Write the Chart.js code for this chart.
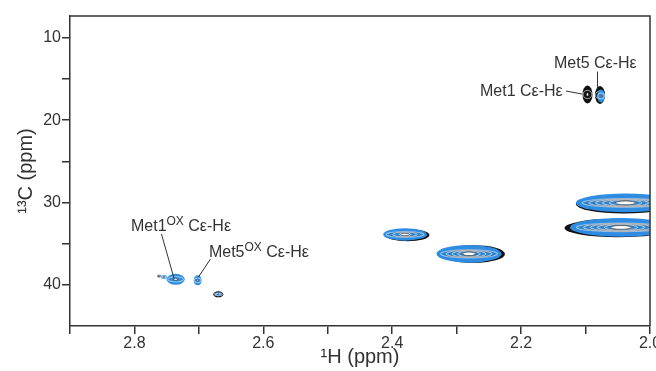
<!DOCTYPE html>
<html>
<head>
<meta charset="utf-8">
<script src="https://cdn.jsdelivr.net/npm/chart.js@4.4.1/dist/chart.umd.min.js"></script>
<style>
  body { margin: 0; background: #fff; }
  canvas { display: block; }
</style>
</head>
<body>
<canvas id="hsqc" width="656" height="371"></canvas>
<script>
// Peak centres (1H ppm, 13C ppm) and half-widths (ppm) for the reference spectrum (black)
const blackH = [2.0970, 2.0776, 2.6699, 2.3763, 2.2742, 2.0400, 2.0497, 2.7619];
const blackC = [16.89, 16.95, 41.13, 33.94, 36.24, 30.18, 33.08, 38.92];
const blackHalfH = [0.0078, 0.0078, 0.0078, 0.0341, 0.0492, 0.0750, 0.0830, 0.0030];
const blackHalfC = [1.09, 1.09, 0.36, 0.75, 1.07, 1.14, 1.13, 0.18];

// ... and for the oxidised sample (blue)
const blueH = [2.0760, 2.7360, 2.7542, 2.7019, 2.6699, 2.3802, 2.2809, 2.0380, 2.0450];
const blueC = [17.07, 39.31, 39.03, 39.43, 41.13, 33.87, 36.22, 30.04, 33.01];
const blueHalfH = [0.0059, 0.0140, 0.0047, 0.0062, 0.0054, 0.0337, 0.0504, 0.0770, 0.0790];
const blueHalfC = [0.79, 0.67, 0.24, 0.61, 0.24, 0.75, 1.07, 1.14, 1.13];

// axis ranges and ticks
const hRange = [2.0, 2.9];
const cRange = [7.37, 44.97];
const hStep = 0.1;
const cStep = 5;

// peak labels: name, superscript, text anchor and leader line (all in ppm)
const labelName = ['Met1', 'Met5', 'Met1', 'Met5'];
const labelSup = ['', '', 'OX', 'OX'];
const labelAt = [[2.2638, 17.07], [2.1490, 13.68], [2.8054, 33.45], [2.6844, 36.60]];
const leaderFrom = [[2.1304, 16.47], [2.0815, 14.10], [2.7581, 33.81], [2.6821, 36.85]];
const leaderTo = [[2.1055, 16.83], [2.0815, 16.22], [2.7387, 39.15], [2.7007, 39.04]];

const FONT = "'Liberation Sans', Arial, sans-serif";
const INK = '#333';

function toPeaks(hs, cs, wh, wc) {
    return hs.map((h, i) => ({ x: h, y: cs[i], w: wh[i], h: wc[i] }));
}

function ellipse(ctx, cx, cy, rx, ry) {
    ctx.beginPath();
    ctx.ellipse(cx, cy, Math.max(rx, 0.3), Math.max(ry, 0.3), 0, 0, Math.PI * 2);
}

// one peak: solid outer level, a band of tight inner levels, open centre
function drawContours(ctx, cx, cy, rx, ry, color) {
    ctx.fillStyle = color;
    ellipse(ctx, cx, cy, rx, ry);
    ctx.fill();

    const n = Math.max(1, Math.min(10, Math.round(rx / 4)));
    ctx.lineWidth = 0.7;
    for (let k = 0; k < n; k++) {
        const t = n > 1 ? k / (n - 1) : 0;
        ctx.strokeStyle = k % 2 ? 'rgba(70,70,70,0.55)' : 'rgba(255,255,255,0.85)';
        ellipse(ctx, cx, cy, rx * (0.88 - 0.62 * t), ry * (0.46 - 0.2 * t));
        ctx.stroke();
    }
    ctx.fillStyle = '#fff';
    ellipse(ctx, cx, cy, rx * 0.2, ry * 0.2);
    ctx.fill();
    ctx.strokeStyle = 'rgba(30,30,30,0.8)';
    ctx.stroke();
}

const contourPlugin = {
    id: 'contourPeaks',
    afterDatasetsDraw(chart) {
        const { ctx, chartArea: a, scales: { x, y } } = chart;
        ctx.save();
        ctx.beginPath();
        ctx.rect(a.left, a.top, a.right - a.left, a.bottom - a.top);
        ctx.clip();
        chart.data.datasets.forEach(ds => {
            ds.data.forEach(p => {
                const cx = x.getPixelForValue(p.x);
                const cy = y.getPixelForValue(p.y);
                const rx = Math.abs(x.getPixelForValue(p.x + p.w) - cx);
                const ry = Math.abs(y.getPixelForValue(p.y + p.h) - cy);
                drawContours(ctx, cx, cy, rx, ry, ds.backgroundColor);
            });
        });
        ctx.restore();
    }
};

// frame on top/right plus the peak annotations
const annotatePlugin = {
    id: 'peakLabels',
    afterDraw(chart) {
        const { ctx, chartArea: a, scales: { x, y } } = chart;
        ctx.save();
        ctx.strokeStyle = INK;
        ctx.lineWidth = 1.5;
        ctx.beginPath();
        ctx.moveTo(a.left, a.top);
        ctx.lineTo(a.right, a.top);
        ctx.lineTo(a.right, a.bottom);
        ctx.stroke();

        ctx.lineWidth = 1;
        ctx.fillStyle = INK;
        ctx.textBaseline = 'alphabetic';
        labelName.forEach((name, i) => {
            ctx.beginPath();
            ctx.moveTo(x.getPixelForValue(leaderFrom[i][0]), y.getPixelForValue(leaderFrom[i][1]));
            ctx.lineTo(x.getPixelForValue(leaderTo[i][0]), y.getPixelForValue(leaderTo[i][1]));
            ctx.stroke();

            let px = x.getPixelForValue(labelAt[i][0]);
            const py = y.getPixelForValue(labelAt[i][1]);
            ctx.font = '16px ' + FONT;
            ctx.fillText(name, px, py);
            px += ctx.measureText(name).width;
            if (labelSup[i]) {
                ctx.font = '12px ' + FONT;
                ctx.fillText(labelSup[i], px, py - 6);
                px += ctx.measureText(labelSup[i]).width;
                ctx.font = '16px ' + FONT;
            }
            ctx.fillText(' C\u03b5-H\u03b5', px, py);
        });
        ctx.restore();
    }
};

new Chart(document.getElementById('hsqc'), {
    type: 'scatter',
    data: {
        datasets: [
            { label: 'reduced', data: toPeaks(blackH, blackC, blackHalfH, blackHalfC), backgroundColor: '#111111', pointRadius: 0 },
            { label: 'oxidised', data: toPeaks(blueH, blueC, blueHalfH, blueHalfC), backgroundColor: '#2e8de2', pointRadius: 0 }
        ]
    },
    options: {
        responsive: false,
        animation: false,
        layout: { padding: { top: 16, right: 6, bottom: 0, left: 0 } },
        plugins: { legend: { display: false }, tooltip: { enabled: false } },
        scales: {
            x: {
                type: 'linear',
                reverse: true,
                min: hRange[0],
                max: hRange[1],
                afterFit: s => { s.height = 45; s.paddingLeft = 0; s.paddingRight = 0; },
                border: { color: INK, width: 1.5 },
                grid: { drawOnChartArea: false, tickLength: 8, color: INK, lineWidth: 1.5 },
                ticks: {
                    stepSize: hStep,
                    includeBounds: false,
                    autoSkip: false,
                    maxRotation: 0,
                    padding: 0,
                    color: INK,
                    font: { family: FONT, size: 16 },
                    callback: v => Math.round(v * 10) % 2 === 0 ? v.toFixed(1) : ''
                },
                title: { display: true, text: '\u00b9H (ppm)', color: INK, font: { family: FONT, size: 20 }, padding: { top: 0, bottom: 2 } }
            },
            y: {
                type: 'linear',
                reverse: true,
                min: cRange[0],
                max: cRange[1],
                afterFit: s => { s.width = 70; s.paddingTop = 0; s.paddingBottom = 0; },
                border: { color: INK, width: 1.5 },
                grid: { drawOnChartArea: false, tickLength: 8, color: INK, lineWidth: 1.5 },
                ticks: {
                    stepSize: cStep,
                    includeBounds: false,
                    autoSkip: false,
                    padding: 1,
                    color: INK,
                    font: { family: FONT, size: 16 },
                    callback: v => v % 10 === 0 ? String(v) : ''
                },
                title: { display: true, text: '\u00b9\u00b3C (ppm)', color: INK, font: { family: FONT, size: 20 }, padding: { top: 14, bottom: 0 } }
            }
        }
    },
    plugins: [contourPlugin, annotatePlugin]
});
</script>
</body>
</html>
